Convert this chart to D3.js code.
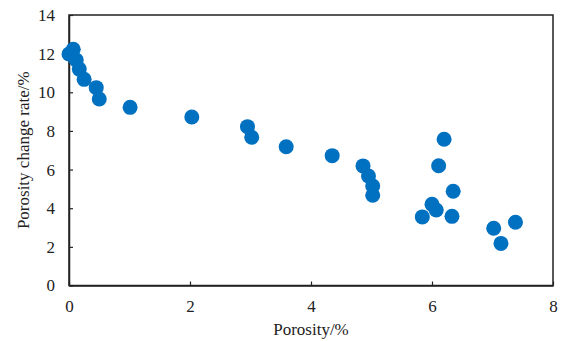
<!DOCTYPE html>
<html><head><meta charset="utf-8">
<script src="https://cdn.jsdelivr.net/npm/d3@7"></script>
<style>body{margin:0;background:#fff}svg{display:block}
svg text{font-family:"Liberation Serif","Times New Roman","DejaVu Serif",serif}</style>
</head><body>
<script>
const porosity = [0, 0.07, 0.12, 0.17, 0.25, 0.45, 0.50, 1.01, 2.03, 2.95, 3.02, 3.59, 4.35, 4.86, 4.95, 5.02, 5.02, 6.20, 6.11, 6.35, 6.00, 6.07, 5.84, 6.33, 7.02, 7.38, 7.14];
const changeRate = [11.98, 12.23, 11.67, 11.2, 10.67, 10.24, 9.65, 9.22, 8.72, 8.22, 7.67, 7.18, 6.72, 6.19, 5.67, 5.15, 4.67, 7.57, 6.20, 4.88, 4.20, 3.91, 3.55, 3.58, 2.96, 3.27, 2.18];
const xTicks = [0, 2, 4, 6, 8];
const yTicks = [0, 2, 4, 6, 8, 10, 12, 14];

const W = 563, H = 341;
const m = {l: 69, t: 15, r: 10, b: 55.5};
const svg = d3.select("body").append("svg").attr("width", W).attr("height", H);
const x = d3.scaleLinear().domain([0, 8]).range([m.l, W - m.r]);
const y = d3.scaleLinear().domain([0, 14]).range([H - m.b, m.t]);

svg.append("rect").attr("x", x(0)).attr("y", y(14)).attr("width", x(8) - x(0)).attr("height", y(0) - y(14))
  .attr("fill", "none").attr("stroke", "#222").attr("stroke-width", 1.5);

const xa = svg.append("g").attr("transform", `translate(0,${y(0)})`)
  .call(d3.axisBottom(x).tickValues(xTicks).tickSizeInner(-4).tickSizeOuter(0).tickPadding(14));
const ya = svg.append("g").attr("transform", `translate(${x(0)},0)`)
  .call(d3.axisLeft(y).tickValues(yTicks).tickSizeInner(-4).tickSizeOuter(0).tickPadding(12));
[xa, ya].forEach(a => {
  a.attr("font-family", null);
  a.select(".domain").attr("stroke", "#222").attr("stroke-width", 1.5);
  a.selectAll(".tick line").attr("stroke", "#222").attr("stroke-width", 1.2);
  a.selectAll(".tick text").attr("font-size", 17).attr("fill", "#222");
});
ya.selectAll(".tick text").attr("x", -14);

svg.append("g").selectAll("circle").data(porosity).join("circle")
  .attr("cx", d => x(d)).attr("cy", (d, i) => y(changeRate[i])).attr("r", 7.5)
  .attr("fill", "#0070C0");

svg.append("text").attr("x", (x(0) + x(8)) / 2).attr("y", 335).attr("text-anchor", "middle")
  .attr("font-size", 17).attr("fill", "#222").text("Porosity/%");
svg.append("text").attr("transform", `translate(28.5,${(y(0) + y(14)) / 2}) rotate(-90)`).attr("text-anchor", "middle")
  .attr("font-size", 17).attr("fill", "#222").text("Porosity change rate/%");
</script>
</body></html>
